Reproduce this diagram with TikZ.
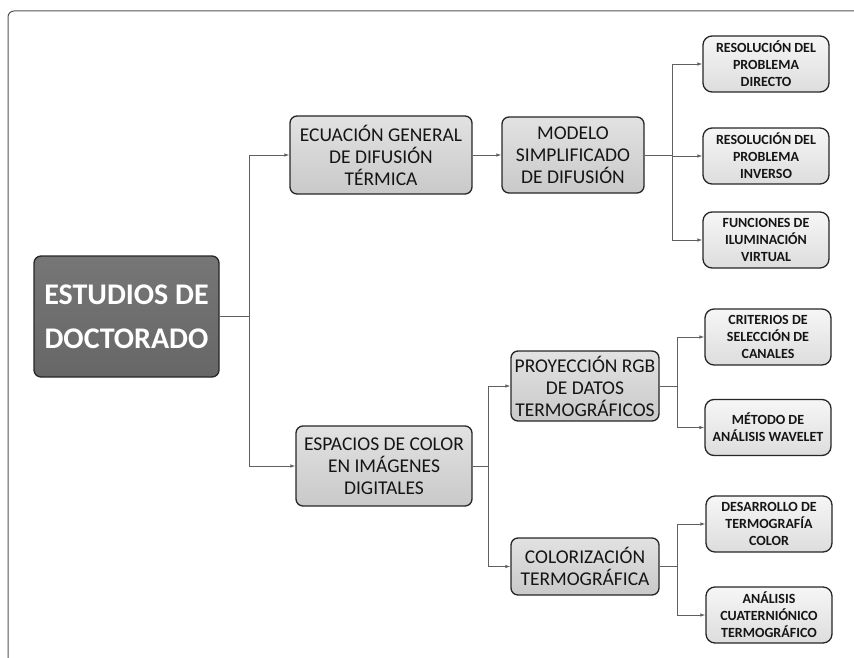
\documentclass[tikz,border=0pt]{standalone}
\usepackage{fontspec}
\setmainfont{Carlito}
\usetikzlibrary{arrows.meta}
\definecolor{framec}{HTML}{555555}
\definecolor{linec}{HTML}{606060}
\definecolor{edgec}{HTML}{262626}
\definecolor{rootA}{HTML}{767676}
\definecolor{rootB}{HTML}{676767}
\definecolor{midA}{HTML}{E2E2E2}
\definecolor{midB}{HTML}{C9C9C9}
\definecolor{smA}{HTML}{F6F6F6}
\definecolor{smB}{HTML}{DDDDDD}
\definecolor{txt}{HTML}{151515}
\tikzset{
  rootbox/.style={draw=edgec, line width=1.3pt, rounded corners=7pt, top color=rootA, bottom color=rootB,
    text=white, align=center, font=\fontsize{30}{44}\selectfont\bfseries, inner sep=0pt,
    minimum width=185pt, minimum height=121pt},
  midbox/.style={draw=edgec, line width=1.3pt, rounded corners=7pt, top color=midA, bottom color=midB,
    text=txt, align=center, font=\fontsize{19.5}{22}\selectfont, inner sep=0pt},
  smbox/.style={draw=edgec, line width=1.3pt, rounded corners=9pt, top color=smA, bottom color=smB,
    text=txt, align=center, font=\fontsize{14}{17}\selectfont\bfseries, inner sep=0pt,
    minimum width=126pt, minimum height=56pt},
  conn/.style={draw=linec, line width=0.9pt},
  arr/.style={conn, -{Latex[length=5pt,width=3.5pt]}}
}
\begin{document}
\begin{tikzpicture}[x=1pt,y=-1pt]
\useasboundingbox (0,0) rectangle (854,658);
\draw[framec, line width=1pt, rounded corners=6pt] (8,658) -- (8,11) -- (854,11);

\node[rootbox] (root) at (126.5,316.5) {ESTUDIOS DE\\DOCTORADO};

\node[midbox, minimum width=182pt, minimum height=78pt] (ecu) at (381,155) {ECUACIÓN GENERAL\\DE DIFUSIÓN\\TÉRMICA};
\node[midbox, minimum width=142pt, minimum height=76pt] (mod) at (573,155) {MODELO\\SIMPLIFICADO\\DE DIFUSIÓN};
\node[midbox, minimum width=176pt, minimum height=80pt] (esp) at (384,466) {ESPACIOS DE COLOR\\EN IMÁGENES\\DIGITALES};
\node[midbox, minimum width=148pt, minimum height=70pt] (proy) at (585,386) {PROYECCIÓN RGB\\DE DATOS\\TERMOGRÁFICOS};
\node[midbox, minimum width=148pt, minimum height=57pt] (col) at (585,566.5) {COLORIZACIÓN\\TERMOGRÁFICA};

\node[smbox] (s1) at (766,64) {RESOLUCIÓN DEL\\PROBLEMA\\DIRECTO};
\node[smbox] (s2) at (766,156) {RESOLUCIÓN DEL\\PROBLEMA\\INVERSO};
\node[smbox] (s3) at (766,240) {FUNCIONES DE\\ILUMINACIÓN\\VIRTUAL};
\node[smbox] (crit) at (768,337) {CRITERIOS DE\\SELECCIÓN DE\\CANALES};
\node[smbox] (met) at (768,427.5) {MÉTODO DE\\ANÁLISIS WAVELET};
\node[smbox] (des) at (769,524) {DESARROLLO DE\\TERMOGRAFÍA\\COLOR};
\node[smbox] (ana) at (769,615) {ANÁLISIS\\CUATERNIÓNICO\\TERMOGRÁFICO};

\coordinate (j1) at (249,316.5);
\coordinate (j2) at (672,155);
\coordinate (j3) at (488,466);
\coordinate (j4) at (677,386);
\coordinate (j5) at (677,566.5);

\draw[conn] (root.east) -- (j1);
\draw[arr] (j1) |- (ecu.west);
\draw[arr] (j1) |- (esp.west);
\draw[arr] (ecu.east) -- (mod.west);
\draw[conn] (mod.east) -- (j2);
\draw[arr] (j2) |- (s1.west);
\draw[arr] (j2) |- (s2.west);
\draw[arr] (j2) |- (s3.west);
\draw[conn] (esp.east) -- (j3);
\draw[arr] (j3) |- (proy.west);
\draw[arr] (j3) |- (col.west);
\draw[conn] (proy.east) -- (j4);
\draw[arr] (j4) |- (crit.west);
\draw[arr] (j4) |- (met.west);
\draw[conn] (col.east) -- (j5);
\draw[arr] (j5) |- (des.west);
\draw[arr] (j5) |- (ana.west);
\end{tikzpicture}
\end{document}
